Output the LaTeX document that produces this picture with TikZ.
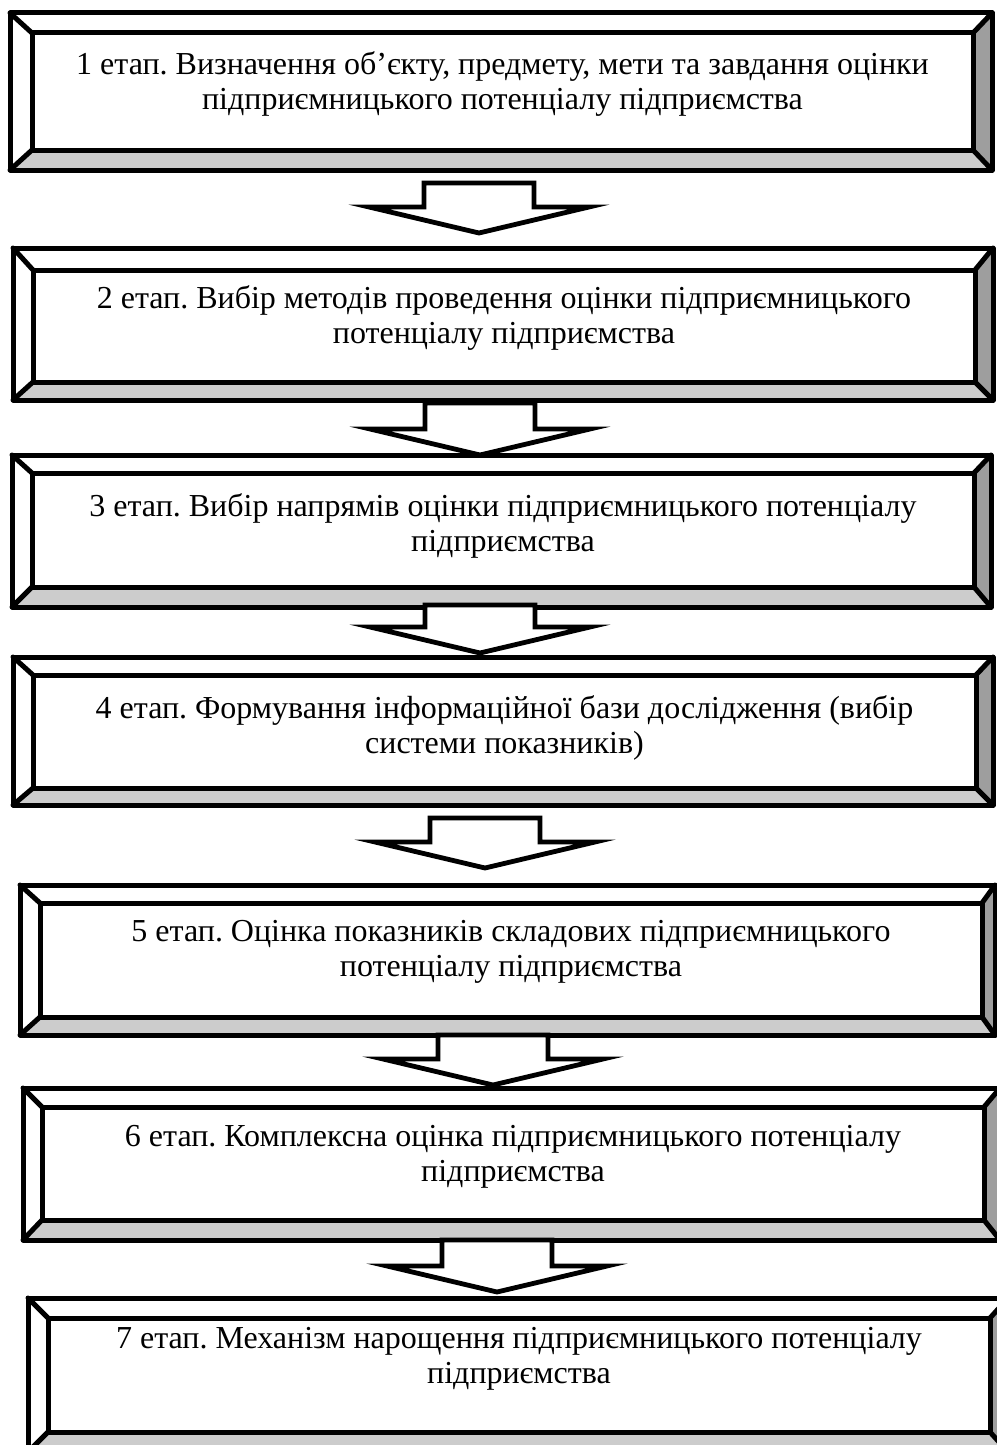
\documentclass[tikz,border=0pt]{standalone}
\usepackage{fontspec}
\setmainfont{Liberation Serif}
\frenchspacing
\usetikzlibrary{calc}
\definecolor{bevlight}{HTML}{CCCCCC}
\definecolor{bevdark}{HTML}{9E9E9E}
\tikzset{
  edge line/.style={line width=5pt, line join=round, line cap=round},
  stagetext/.style={align=center, font=\fontsize{32}{35}\selectfont, inner sep=0pt},
  blockarrow/.style={draw, fill=white, line width=4.8pt, line join=miter},
}
% #1 id, #2 outer NW, #3 outer SE, #4 inner NW, #5 inner SE, #6 text centre y, #7 text
\newcommand\bevelbox[7]{%
  \coordinate (#1-A) at (#2);
  \coordinate (#1-C) at (#3);
  \coordinate (#1-a) at (#4);
  \coordinate (#1-c) at (#5);
  \coordinate (#1-B) at (#1-C |- #1-A);
  \coordinate (#1-D) at (#1-A |- #1-C);
  \coordinate (#1-b) at (#1-c |- #1-a);
  \coordinate (#1-d) at (#1-a |- #1-c);
  \fill[white] (#1-A) -- (#1-B) -- (#1-b) -- (#1-a) -- cycle;
  \fill[white] (#1-A) -- (#1-a) -- (#1-d) -- (#1-D) -- cycle;
  \fill[bevlight] (#1-D) -- (#1-d) -- (#1-c) -- (#1-C) -- cycle;
  \fill[bevdark] (#1-B) -- (#1-C) -- (#1-c) -- (#1-b) -- cycle;
  \draw[edge line] (#1-A) rectangle (#1-C);
  \draw[edge line] (#1-a) rectangle (#1-c);
  \draw[edge line] (#1-A) -- (#1-a) (#1-B) -- (#1-b) (#1-C) -- (#1-c) (#1-D) -- (#1-d);
  \coordinate (#1-m) at ($(#1-a)!0.5!(#1-c)$);
  \node[stagetext] (#1) at (#1-m |- 0,#6) {#7};
}
% block arrow from shaft top #1 to tip #2
\newcommand\stagearrow[2]{%
  \draw[blockarrow] let \p1=(#1), \p2=(#2) in
    (\x1-55pt,\y1) -- (\x1+55pt,\y1) -- (\x1+55pt,\y2+26pt) -- (\x1+110pt,\y2+26pt)
    -- (\x2,\y2) -- (\x1-110pt,\y2+26pt) -- (\x1-55pt,\y2+26pt) -- cycle;
}
\begin{document}
\begin{tikzpicture}[x=1pt,y=1pt]
\useasboundingbox (0,0) rectangle (996,-1445);
\fill[white] (0,0) rectangle (996,-1445);

\bevelbox{s1}{10,-13}{992,-170}{32,-33}{973,-150}{-84}
  {1 етап. Визначення об’єкту, предмету, мети та завдання оцінки\\ підприємницького потенціалу підприємства}
\bevelbox{s2}{13,-248}{993,-400}{33,-270}{975,-382}{-318}
  {2 етап. Вибір методів проведення оцінки підприємницького\\ потенціалу підприємства}
\bevelbox{s3}{12,-455}{991,-607}{32,-473}{974,-587}{-526}
  {3 етап. Вибір напрямів оцінки підприємницького потенціалу\\ підприємства}
\bevelbox{s4}{13,-657}{993,-805}{33,-675}{976,-788}{-728}
  {4 етап. Формування інформаційної бази дослідження (вибір\\ системи показників)}
\bevelbox{s5}{20,-885}{995,-1035}{40,-903}{982,-1017}{-952}
  {5 етап. Оцінка показників складових підприємницького\\ потенціалу підприємства}
\bevelbox{s6}{23,-1088}{1000,-1240}{42,-1107}{984,-1220}{-1157}
  {6 етап. Комплексна оцінка підприємницького потенціалу\\ підприємства}
\bevelbox{s7}{28,-1298}{1008,-1452}{48,-1318}{990,-1432}{-1359}
  {7 етап. Механізм нарощення підприємницького потенціалу\\ підприємства}

% arrow end points between consecutive stages
\coordinate (a1s) at (479,-183);  \coordinate (a1t) at (479,-233);
\coordinate (a2s) at (480,-403);  \coordinate (a2t) at (480,-455);
\coordinate (a3s) at (480,-605);  \coordinate (a3t) at (480,-653);
\coordinate (a4s) at (485,-818);  \coordinate (a4t) at (485,-868);
\coordinate (a5s) at (493,-1035); \coordinate (a5t) at (493,-1085);
\coordinate (a6s) at (497,-1240); \coordinate (a6t) at (497,-1292);
\stagearrow{a1s}{a1t}
\stagearrow{a2s}{a2t}
\stagearrow{a3s}{a3t}
\stagearrow{a4s}{a4t}
\stagearrow{a5s}{a5t}
\stagearrow{a6s}{a6t}
\end{tikzpicture}
\end{document}
